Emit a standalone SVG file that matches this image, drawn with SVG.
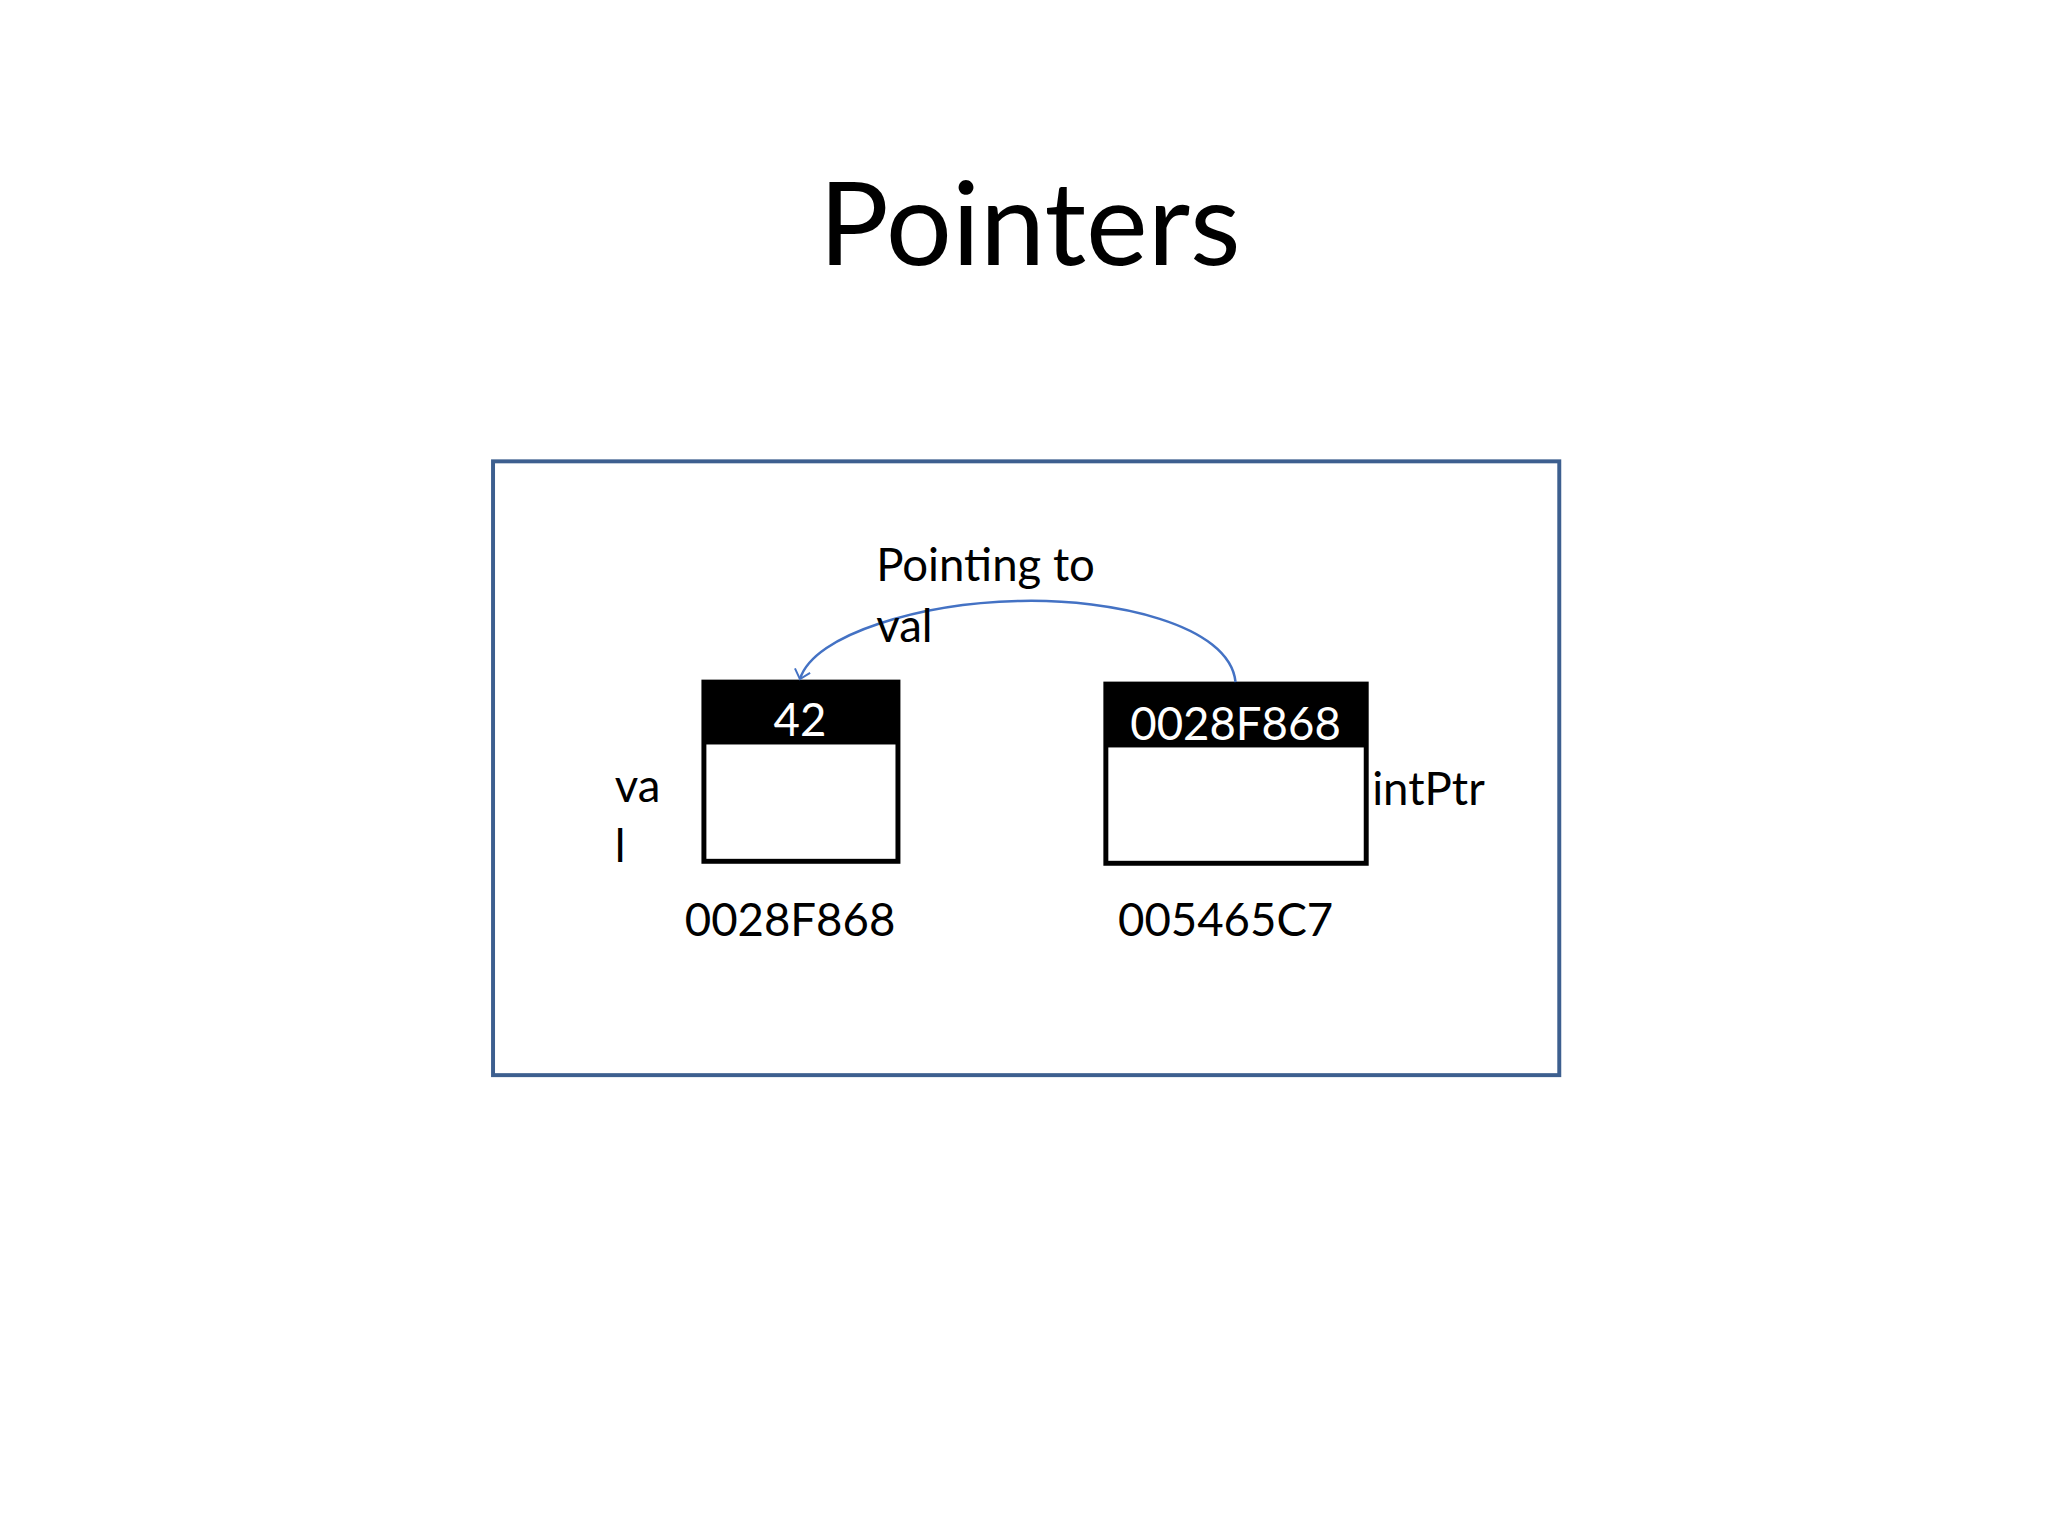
<svg xmlns="http://www.w3.org/2000/svg" width="2048" height="1536" viewBox="0 0 2048 1536">
<style>
text{font-family:Lato,"Open Sans",sans-serif;font-size:46px;fill:#000}
.w{fill:#fff}
.box{fill:#fff;stroke:#000;stroke-width:5}
</style>
<defs><marker id="ah" markerWidth="20" markerHeight="20" refX="10" refY="10" orient="auto" markerUnits="userSpaceOnUse"><path d="M1,2 L10,10 L1,18" fill="none" stroke="#4472C4" stroke-width="2"/></marker></defs>
<rect width="2048" height="1536" fill="#fff"/>
<g transform="translate(2,0) scale(0.99)">
<text x="1038" y="268" text-anchor="middle" style="font-size:118px">Pointers</text>
<rect x="496" y="466" width="1077" height="620" fill="none" stroke="#3D5F8F" stroke-width="4"/>
<g id="val"><rect class="box" x="709" y="689" width="196" height="181"/><rect x="709" y="689" width="196" height="63" fill="#000"/><text class="w" x="806" y="743" text-anchor="middle">42</text>
<text x="619" y="810">va</text><text x="619" y="871">l</text><text x="796" y="945" text-anchor="middle">0028F868</text></g>
<g id="intPtr"><rect class="box" x="1115" y="691" width="263" height="181"/><rect x="1115" y="691" width="263" height="64" fill="#000"/><text class="w" x="1246" y="747" text-anchor="middle">0028F868</text>
<text x="1384" y="813">intPtr</text><text x="1236" y="945" text-anchor="middle">005465C7</text></g>
<g id="connectors"><path d="M1246,689 C1240,630 1120,605 1029,607 C930,609 820,640 806,686" fill="none" stroke="#4472C4" stroke-width="2.5" marker-end="url(#ah)"/></g>
<text x="883" y="587">Pointing to</text><text x="883" y="649">val</text>
</g>
</svg>
